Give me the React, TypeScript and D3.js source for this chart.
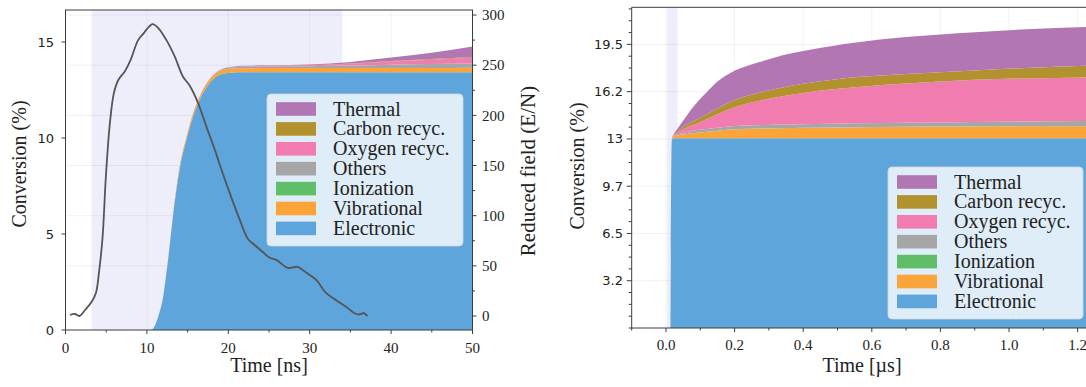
import React from 'react';
import * as d3 from 'd3';

// Energy channels, stacked bottom → top
const channelNames = ['Electronic', 'Vibrational', 'Ionization', 'Others', 'Oxygen recyc.', 'Carbon recyc.', 'Thermal'];
const channelColors = ['#5DA5DA', '#FAA43A', '#60BD68', '#A6A6A6', '#F17CB0', '#B2912F', '#B276B2'];

// Pulse window (ns): conversion per channel, %
const nsTime = [0, 10.5, 10.8, 11.4, 12.0, 12.6, 13.2, 14.0, 14.85, 15.66, 16.5, 17.7, 18.9, 20.2, 22, 25, 30, 35, 40, 45, 50];
const nsElectronic = [0, 0, 0.09, 0.7, 1.73, 3.65, 5.9, 8.33, 9.9, 11.1, 12.0, 12.85, 13.28, 13.4, 13.42, 13.42, 13.42, 13.42, 13.42, 13.42, 13.42];
const nsVibrational = [0, 0, 0, 0.01, 0.03, 0.06, 0.09, 0.12, 0.14, 0.16, 0.17, 0.19, 0.2, 0.21, 0.21, 0.22, 0.22, 0.22, 0.23, 0.23, 0.24];
const nsIonization = [0, 0, 0, 0, 0, 0, 0, 0, 0, 0, 0, 0, 0, 0, 0, 0, 0, 0, 0, 0, 0];
const nsOthers = [0, 0, 0, 0, 0, 0, 0, 0.01, 0.01, 0.02, 0.02, 0.03, 0.04, 0.06, 0.08, 0.09, 0.1, 0.13, 0.17, 0.2, 0.22];
const nsOxygen = [0, 0, 0, 0, 0, 0, 0, 0, 0, 0, 0, 0, 0.01, 0.02, 0.03, 0.04, 0.05, 0.1, 0.17, 0.23, 0.3];
const nsCarbon = [0, 0, 0, 0, 0, 0, 0, 0, 0, 0, 0, 0, 0, 0, 0, 0, 0.01, 0.01, 0.02, 0.03, 0.04];
const nsThermal = [0, 0, 0, 0, 0, 0, 0, 0, 0, 0, 0, 0, 0, 0.01, 0.02, 0.02, 0.03, 0.08, 0.18, 0.33, 0.55];

// Reduced electric field during the pulse (Td)
const fieldTime = [0.55, 1.16, 1.7, 2.4, 3.2, 3.74, 4.15, 4.56, 4.96, 5.45, 5.94, 6.47, 7.3, 7.99, 8.92, 9.62, 10.0, 10.7, 11.4, 12.4, 13.4, 14.4, 15.3, 16.3, 17.3, 18.5, 18.9, 20.2, 21.4, 22.4, 23.2, 24.2, 25.1, 25.9, 27.3, 28.5, 29.6, 30.8, 32.0, 33.2, 34.5, 35.7, 36.3, 36.6, 37.1];
const fieldValue = [1, 2, 0, 6, 14, 23, 46, 79, 139, 192, 222, 235, 244, 255, 275, 282, 286, 291, 287, 275, 259, 239, 229, 212, 189, 162, 152, 122, 96, 77, 71, 64, 58, 56, 48, 49, 43, 36, 23, 16, 9, 2, 2, 3, 0];

// Afterglow (µs): conversion per channel, %
const usTime = [0.013, 0.017, 0.022, 0.033, 0.052, 0.071, 0.091, 0.12, 0.15, 0.19, 0.24, 0.29, 0.34, 0.4, 0.48, 0.56, 0.7, 0.9, 1.05, 1.23, 1.3];
const usElectronic = [0, 12.95, 13.03, 13.04, 13.04, 13.04, 13.04, 13.04, 13.04, 13.04, 13.04, 13.04, 13.04, 13.04, 13.04, 13.04, 13.04, 13.04, 13.04, 13.04, 13.04];
const usVibrational = [0, 0.08, 0.15, 0.19, 0.27, 0.33, 0.38, 0.45, 0.52, 0.6, 0.65, 0.68, 0.7, 0.72, 0.74, 0.76, 0.79, 0.82, 0.83, 0.84, 0.84];
const usIonization = [0, 0, 0.005, 0.01, 0.01, 0.01, 0.01, 0.01, 0.01, 0.01, 0.01, 0.01, 0.01, 0.01, 0.01, 0.01, 0.01, 0.01, 0.01, 0.01, 0.01];
const usOthers = [0, 0, 0.02, 0.05, 0.1, 0.15, 0.18, 0.19, 0.2, 0.22, 0.23, 0.23, 0.24, 0.24, 0.25, 0.26, 0.27, 0.3, 0.32, 0.34, 0.34];
const usOxygen = [0, 0, 0.03, 0.12, 0.27, 0.36, 0.45, 0.68, 0.92, 1.22, 1.52, 1.75, 1.95, 2.15, 2.35, 2.5, 2.7, 2.9, 2.96, 3.0, 3.01];
const usCarbon = [0, 0, 0.02, 0.07, 0.16, 0.23, 0.28, 0.35, 0.41, 0.48, 0.53, 0.57, 0.6, 0.63, 0.66, 0.68, 0.66, 0.64, 0.72, 0.8, 0.82];
const usThermal = [0, 0, 0.05, 0.2, 0.46, 0.84, 1.19, 1.52, 1.84, 2.0, 2.07, 2.13, 2.21, 2.26, 2.33, 2.4, 2.53, 2.63, 2.66, 2.66, 2.66];

// Discharge pulse window (ns)
const pulseWindow = [3.2, 34];

// Tick values and labels
const nsTicks = [0, 10, 20, 30, 40, 50];
const nsMinorTicks = [5, 15, 25, 35, 45];
const convTicksNs = [0, 5, 10, 15];
const fieldTicks = [0, 50, 100, 150, 200, 250, 300];
const fieldMinorTicks = [25, 75, 125, 175, 225, 275];
const usTicks = [0, 0.2, 0.4, 0.6, 0.8, 1.0, 1.2];
const usMinorTicks = [-0.1, 0.1, 0.3, 0.5, 0.7, 0.9, 1.1, 1.3];
const convTicksUs = [3.25, 6.5, 9.75, 13, 16.25, 19.5];
const convTickLabelsUs = ['3.2', '6.5', '9.7', '13', '16.2', '19.5'];

const SERIF = "'Liberation Serif', 'DejaVu Serif', serif";
const SANS = "'DejaVu Sans', sans-serif";
const SPINE = '#3c3c3c';
const TEXT = '#222';
const SHADE = '#EEEEFA';

type Scale = d3.ScaleLinear<number, number>;

function StackedAreas({ time, layers, x, y }: { time: number[]; layers: number[][]; x: Scale; y: Scale }) {
  const rows = time.map((t, i) => {
    const r: Record<string, number> = { t };
    channelNames.forEach((k, j) => (r[k] = layers[j][i]));
    return r;
  });
  const series = d3.stack<Record<string, number>>().keys(channelNames)(rows);
  const area = d3
    .area<d3.SeriesPoint<Record<string, number>>>()
    .x((d) => x(d.data.t))
    .y0((d) => y(d[0]))
    .y1((d) => y(d[1]))
    .curve(d3.curveMonotoneX);
  return (
    <g>
      {series.map((s, i) => (
        <path key={channelNames[i]} d={area(s) || ''} fill={channelColors[i]} />
      ))}
    </g>
  );
}

function Legend({ x, y, w, h }: { x: number; y: number; w: number; h: number }) {
  const order = channelNames.map((_, i) => channelNames.length - 1 - i);
  const rowH = 19.9;
  return (
    <g>
      <rect x={x} y={y} width={w} height={h} rx={4} fill="#ffffff" fillOpacity={0.8} stroke="#d8d8d8" strokeWidth={0.8} />
      {order.map((ci, r) => {
        const cy = y + 15 + r * rowH;
        return (
          <g key={channelNames[ci]}>
            <rect x={x + 9} y={cy - 6.8} width={40} height={13.6} fill={channelColors[ci]} />
            <text x={x + 66} y={cy + 6.5} style={{ fontFamily: SERIF, fontSize: 20 }} fill={TEXT}>
              {channelNames[ci]}
            </text>
          </g>
        );
      })}
    </g>
  );
}

export default function App() {
  // nanosecond panel
  const L = { left: 65.5, right: 472.5, top: 10, bottom: 330 };
  const xL = d3.scaleLinear().domain([0, 50]).range([L.left, L.right]);
  const yL = d3.scaleLinear().domain([0, 16.667]).range([L.bottom, L.top]);
  const yF = d3.scaleLinear().domain([-13.95, 305]).range([L.bottom, L.top]);

  // microsecond panel
  const R = { left: 631.7, right: 1111.9, top: 7.3, bottom: 328 };
  const xR = d3.scaleLinear().domain([-0.1, 1.3]).range([R.left, R.right]);
  const yR = d3.scaleLinear().domain([0, 22.05]).range([R.bottom, R.top]);
  const convMinorUs = d3.range(0, 28).map((k) => k * 0.8125).filter((v) => v <= 22 && !convTicksUs.some((m) => Math.abs(m - v) < 1e-6));

  const fieldLine = d3
    .line<number>()
    .x((_, i) => xL(fieldTime[i]))
    .y((d) => yF(d))
    .curve(d3.curveCatmullRom.alpha(0.5));

  const grid = { stroke: '#000', strokeOpacity: 0.05, strokeWidth: 1 };
  const serif = (size: number) => ({ fontFamily: SERIF, fontSize: size });
  const sans = (size: number) => ({ fontFamily: SANS, fontSize: size });

  return (
    <svg
      width={1086}
      height={387}
      viewBox="0 0 1086 387"
      style={{ position: 'absolute', left: 0, top: 0, background: '#fff' }}
    >
      <defs>
        <clipPath id="clipL">
          <rect x={L.left} y={L.top} width={L.right - L.left} height={L.bottom - L.top} />
        </clipPath>
        <clipPath id="clipR">
          <rect x={R.left} y={R.top} width={R.right - R.left} height={R.bottom - R.top} />
        </clipPath>
      </defs>

      {/* ---------- nanosecond panel ---------- */}
      <g clipPath="url(#clipL)">
        <rect x={xL(pulseWindow[0])} y={L.top} width={xL(pulseWindow[1]) - xL(pulseWindow[0])} height={L.bottom - L.top} fill={SHADE} />
        {nsTicks.slice(1, -1).map((t) => (
          <line key={'gx' + t} x1={xL(t)} x2={xL(t)} y1={L.top} y2={L.bottom} {...grid} />
        ))}
        {fieldTicks.slice(1).map((t) => (
          <line key={'gy' + t} x1={L.left} x2={L.right} y1={yF(t)} y2={yF(t)} {...grid} />
        ))}
        <StackedAreas
          time={nsTime}
          layers={[nsElectronic, nsVibrational, nsIonization, nsOthers, nsOxygen, nsCarbon, nsThermal]}
          x={xL}
          y={yL}
        />
        <path d={fieldLine(fieldValue) || ''} fill="none" stroke="#555" strokeWidth={1.8} strokeLinejoin="round" />
      </g>
      <rect x={L.left} y={L.top} width={L.right - L.left} height={L.bottom - L.top} fill="none" stroke={SPINE} strokeWidth={1} />

      {nsTicks.map((t) => (
        <g key={'xl' + t}>
          <line x1={xL(t)} x2={xL(t)} y1={L.bottom} y2={L.bottom + 4} stroke={SPINE} />
          <text x={xL(t)} y={353} textAnchor="middle" style={serif(15)} fill={TEXT}>
            {t}
          </text>
        </g>
      ))}
      {nsMinorTicks.map((t) => (
        <line key={'xlm' + t} x1={xL(t)} x2={xL(t)} y1={L.bottom} y2={L.bottom + 2.5} stroke={SPINE} />
      ))}
      {convTicksNs.map((v) => (
        <g key={'yl' + v}>
          <line x1={L.left - 4} x2={L.left} y1={yL(v)} y2={yL(v)} stroke={SPINE} />
          <text x={54} y={yL(v)} dy="0.35em" textAnchor="end" style={sans(13)} fill={TEXT}>
            {v}
          </text>
        </g>
      ))}
      {fieldTicks.map((v) => (
        <g key={'yf' + v}>
          <line x1={L.right} x2={L.right + 4} y1={yF(v)} y2={yF(v)} stroke={SPINE} />
          <text x={482} y={yF(v)} dy="0.35em" style={serif(15)} fill={TEXT}>
            {v}
          </text>
        </g>
      ))}
      {fieldMinorTicks.map((v) => (
        <line key={'yfm' + v} x1={L.right} x2={L.right + 2.5} y1={yF(v)} y2={yF(v)} stroke={SPINE} />
      ))}
      <text x={(L.left + L.right) / 2} y={372} textAnchor="middle" style={serif(20)} fill={TEXT}>
        Time [ns]
      </text>
      <text transform="translate(26,164) rotate(-90)" textAnchor="middle" style={serif(20)} fill={TEXT}>
        Conversion (%)
      </text>
      <text transform="translate(535,171) rotate(-90)" textAnchor="middle" style={serif(21)} fill={TEXT}>
        Reduced field (E/N)
      </text>
      <Legend x={267} y={94} w={196} h={152} />

      {/* ---------- microsecond panel ---------- */}
      <g clipPath="url(#clipR)">
        <rect x={xR(pulseWindow[0] / 1000)} y={R.top} width={xR(pulseWindow[1] / 1000) - xR(pulseWindow[0] / 1000)} height={R.bottom - R.top} fill={SHADE} />
        {usTicks.map((t) => (
          <line key={'gxr' + t} x1={xR(t)} x2={xR(t)} y1={R.top} y2={R.bottom} {...grid} />
        ))}
        {convTicksUs.map((v) => (
          <line key={'gyr' + v} x1={R.left} x2={R.right} y1={yR(v)} y2={yR(v)} {...grid} />
        ))}
        <StackedAreas
          time={usTime}
          layers={[usElectronic, usVibrational, usIonization, usOthers, usOxygen, usCarbon, usThermal]}
          x={xR}
          y={yR}
        />
      </g>
      <line x1={R.left} x2={R.right} y1={R.top} y2={R.top} stroke={SPINE} />
      <line x1={R.left} x2={R.right} y1={R.bottom} y2={R.bottom} stroke={SPINE} />
      <line x1={R.left} x2={R.left} y1={R.top} y2={R.bottom} stroke={SPINE} />

      {usTicks.map((t) => (
        <g key={'xr' + t}>
          <line x1={xR(t)} x2={xR(t)} y1={R.bottom} y2={R.bottom + 4} stroke={SPINE} />
          <text x={xR(t)} y={350} textAnchor="middle" style={serif(15)} fill={TEXT}>
            {d3.format('.1f')(t)}
          </text>
        </g>
      ))}
      {usMinorTicks.map((t) => (
        <line key={'xrm' + t} x1={xR(t)} x2={xR(t)} y1={R.bottom} y2={R.bottom + 2.5} stroke={SPINE} />
      ))}
      {convTicksUs.map((v, i) => (
        <g key={'yr' + v}>
          <line x1={R.left - 5} x2={R.left} y1={yR(v)} y2={yR(v)} stroke={SPINE} />
          <text x={623} y={yR(v)} dy="0.35em" textAnchor="end" style={sans(13)} fill={TEXT}>
            {convTickLabelsUs[i]}
          </text>
        </g>
      ))}
      {convMinorUs.map((v) => (
        <line key={'yrm' + v} x1={R.left - 3} x2={R.left} y1={yR(v)} y2={yR(v)} stroke={SPINE} />
      ))}
      <text x={862} y={372} textAnchor="middle" style={serif(20)} fill={TEXT}>
        Time [µs]
      </text>
      <text transform="translate(584,166) rotate(-90)" textAnchor="middle" style={serif(20)} fill={TEXT}>
        Conversion (%)
      </text>
      <Legend x={888} y={167} w={195} h={152} />
    </svg>
  );
}
